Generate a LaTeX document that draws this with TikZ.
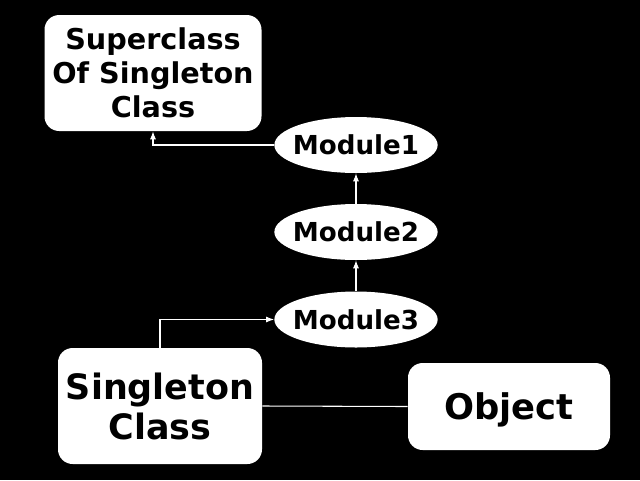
\documentclass[tikz,border=0pt]{standalone}
\usepackage{fontspec}
\setmainfont{DejaVu Sans}
\usepackage{tikz}
\usetikzlibrary{arrows.meta, shapes.geometric, positioning}

\begin{document}
\begin{tikzpicture}[x=0.75pt, y=-0.75pt, >={Latex[length=6pt,width=4.5pt]},
    classbox/.style={fill=white, rounded corners=11pt, align=center, text=black, inner sep=0pt},
    modnode/.style={ellipse, fill=white, text=black, inner ysep=0pt, inner xsep=-4pt,
        minimum width=120pt, minimum height=42pt,
        font=\bfseries\fontsize{19.6}{22}\selectfont},
    link/.style={white, line width=0.8pt}]
    % Nền đen
    \fill[black] (0,0) rectangle (640,480);
    \useasboundingbox (0,0) rectangle (640,480);

    % Các lớp
    \node[classbox, minimum width=162.75pt, minimum height=87pt,
        font=\bfseries\fontsize{21.5}{25.5}\selectfont]
        (super) at (153,73) {Superclass\\Of Singleton\\Class};
    \node[classbox, minimum width=153pt, minimum height=87pt,
        font=\bfseries\fontsize{26.2}{30}\selectfont]
        (single) at (160,406) {Singleton\\Class};
    \node[classbox, minimum width=151.5pt, minimum height=65.25pt, text depth=0pt,
        font=\bfseries\fontsize{26.5}{30}\selectfont]
        (object) at (509,406.5) {Object};

    % Các module
    \node[modnode] (mod1) at (356,145) {Module1};
    \node[modnode] (mod2) at (356,232) {Module2};
    \node[modnode] (mod3) at (356,319.5) {Module3};

    % Nối các nút
    \draw[link, ->] (mod1.west) -| (super.south);
    \draw[link, ->] (mod2) -- (mod1);
    \draw[link, ->] (mod3) -- (mod2);
    \draw[link, ->] (single.north) |- (mod3.west);
    \draw[link] (single.east) -- (object.west);

\end{tikzpicture}
\end{document}
